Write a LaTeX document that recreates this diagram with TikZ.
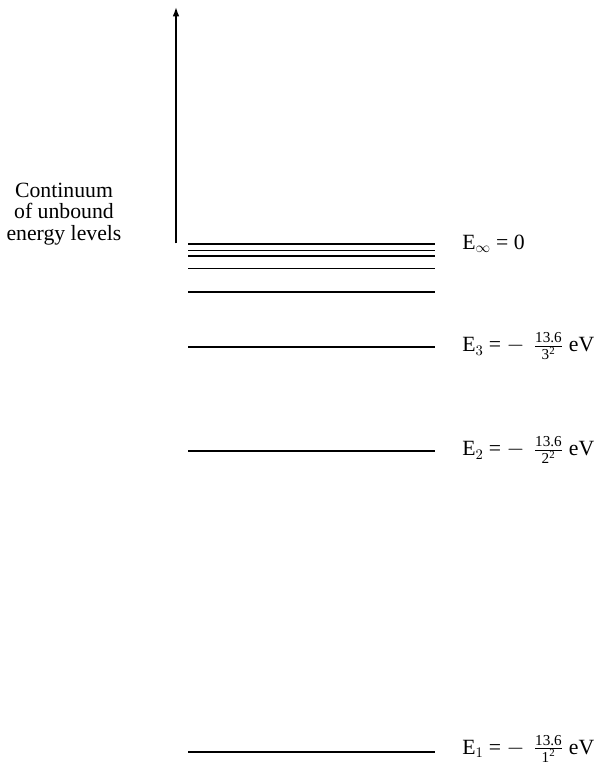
\documentclass[tikz,border=0pt]{standalone}
\usepackage{amsmath}
\usepackage{fontspec}
\setmainfont{Liberation Serif}
\usetikzlibrary{arrows.meta,positioning}

\newcommand{\levelfrac}[1]{\genfrac{}{}{0.5pt}{1}{\text{13.6}\rule[-1.5pt]{0pt}{1pt}}{\rule{0pt}{6.5pt}\text{#1}^{\text{2}}}}

\begin{document}
\begin{tikzpicture}[
    x=0.75pt, y=-0.75pt,
    energyline/.style={draw=black, line width=1.3pt},
    textblock/.style={align=center, inner sep=0pt, font=\rmfamily\fontsize{16.3}{16}\selectfont},
    levellabel/.style={anchor=base west, inner sep=0pt, font=\rmfamily\fontsize{16.3}{16}\selectfont},
    arrow/.style={-{Latex[length=7pt,width=5pt]}, line width=1.2pt}
]
  \useasboundingbox (0,0) rectangle (596,765);

  % Nodes
  \node (cont) [textblock] at (64,214) {Continuum\\of unbound\\energy levels};

  \coordinate (abase) at (176,243.3);
  \coordinate (atip) at (176,7);

  % Levels
  \draw [energyline] (188,244.3) -- (435,244.3);
  \draw [energyline] (188,250.5) -- (435,250.5);
  \draw [energyline] (188,256.3) -- (435,256.3);
  \draw [energyline] (188,268.5) -- (435,268.5);
  \draw [energyline] (188,292.3) -- (435,292.3);
  \draw [energyline] (188,346.7) -- (435,346.7);
  \draw [energyline] (188,450.7) -- (435,450.7);
  \draw [energyline] (188,751.7) -- (435,751.7);

  % Labels
  \node (einf) [levellabel] at (462,249.3) {E$_\infty$ = 0};
  \node (e3) [levellabel] at (462,351.7) {E$_3$ = $-$\, $\levelfrac{3}$ eV};
  \node (e2) [levellabel] at (462,455.7) {E$_2$ = $-$\, $\levelfrac{2}$ eV};
  \node (e1) [levellabel] at (462,754.5) {E$_1$ = $-$\, $\levelfrac{1}$ eV};

  % Arrows
  \draw [arrow] (abase) -- (atip);

\end{tikzpicture}
\end{document}
